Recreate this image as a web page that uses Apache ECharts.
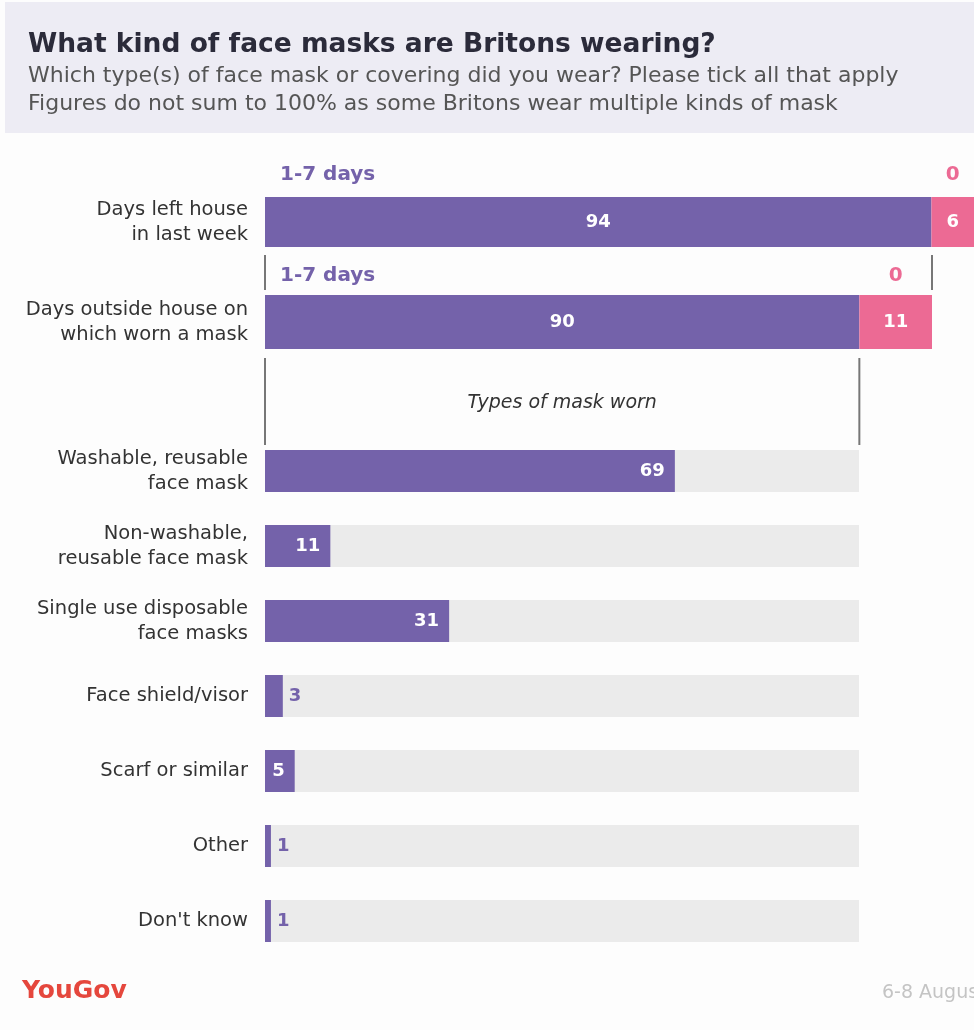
<!DOCTYPE html>
<html>
<head>
<meta charset="utf-8">
<script src="https://cdn.jsdelivr.net/npm/echarts@6/dist/echarts.min.js"></script>
<style>
html,body{margin:0;padding:0;background:#fdfdfd;}
#main{width:974px;height:1030px;}
</style>
</head>
<body>
<div id="main"></div>
<script>
// ---- data ----
const titleText = 'What kind of face masks are Britons wearing?';
const subtitleText = 'Which type(s) of face mask or covering did you wear? Please tick all that apply\nFigures do not sum to 100% as some Britons wear multiple kinds of mask';
const segmentHeaders = ['1-7 days', '0'];
const topCategory1 = ['Days left house\nin last week'];
const topCategory2 = ['Days outside house on\nwhich worn a mask'];
const daysLeft = [94, 6];      // 1-7 days, 0 days
const daysMasked = [90, 11];   // 1-7 days, 0 days
const maskTypes = ['Washable, reusable\nface mask', 'Non-washable,\nreusable face mask', 'Single use disposable\nface masks', 'Face shield/visor', 'Scarf or similar', 'Other', "Don't know"];
const maskValues = [69, 11, 31, 3, 5, 1, 1];
const bracketLabel = 'Types of mask worn';
const sourceText = '6-8 August 2020';

// ---- style ----
const purple = '#7462aa', pink = '#ec6a94', track = '#ebebeb';
const font = 'DejaVu Sans';
const chart = echarts.init(document.getElementById('main'));

const catAxis = (gi, data) => ({
  type: 'category', gridIndex: gi, data: data, inverse: true,
  axisLine: {show: false}, axisTick: {show: false},
  axisLabel: {margin: 17, fontSize: 19.5, lineHeight: 25, color: '#333', fontFamily: font, align: 'right'}
});
const valAxis = (gi, max) => ({type: 'value', gridIndex: gi, min: 0, max: max, show: false, splitLine: {show: false}});
const inLabel = {show: true, position: 'inside', color: '#fff', fontSize: 18, fontWeight: 'bold', fontFamily: font};

const option = {
  backgroundColor: '#fdfdfd',
  animation: false,
  title: [
    {text: titleText, left: 28, top: 32, padding: 0, textStyle: {fontSize: 26.5, fontWeight: 'bold', color: '#2b2b3a', fontFamily: font}},
    {text: subtitleText, left: 28, top: 62, padding: 0, textStyle: {fontSize: 22, fontWeight: 'normal', color: '#555', lineHeight: 28, fontFamily: font}},
    {text: 'YouGov', left: 22, top: 979, padding: 0, textStyle: {fontSize: 25, fontWeight: 'bold', color: '#e5473d', fontFamily: font}},
    {text: sourceText, left: 882, top: 984, padding: 0, textStyle: {fontSize: 19, fontWeight: 'normal', color: '#c4c4c4', fontFamily: font}}
  ],
  grid: [
    {left: 265, right: -1, top: 197, height: 50},
    {left: 265, right: 42, top: 295, height: 54},
    {left: 265, right: 115, top: 433.5, height: 525}
  ],
  xAxis: [valAxis(0, daysLeft[0] + daysLeft[1]), valAxis(1, daysMasked[0] + daysMasked[1]), valAxis(2, 100)],
  yAxis: [catAxis(0, topCategory1), catAxis(1, topCategory2), catAxis(2, maskTypes)],
  series: [
    {type: 'bar', xAxisIndex: 0, yAxisIndex: 0, stack: 'a', barWidth: '100%', data: [daysLeft[0]], itemStyle: {color: purple}, label: inLabel},
    {type: 'bar', xAxisIndex: 0, yAxisIndex: 0, stack: 'a', barWidth: '100%', data: [daysLeft[1]], itemStyle: {color: pink}, label: inLabel},
    {type: 'bar', xAxisIndex: 1, yAxisIndex: 1, stack: 'b', barWidth: '100%', data: [daysMasked[0]], itemStyle: {color: purple}, label: inLabel},
    {type: 'bar', xAxisIndex: 1, yAxisIndex: 1, stack: 'b', barWidth: '100%', data: [daysMasked[1]], itemStyle: {color: pink}, label: inLabel},
    {type: 'bar', xAxisIndex: 2, yAxisIndex: 2, barWidth: 42,
      showBackground: true, backgroundStyle: {color: track},
      itemStyle: {color: purple},
      data: maskValues.map(v => ({
        value: v,
        label: v >= 5
          ? {show: true, position: 'insideRight', distance: 10, color: '#fff', fontSize: 18, fontWeight: 'bold', fontFamily: font}
          : {show: true, position: 'right', distance: 6, color: purple, fontSize: 18, fontWeight: 'bold', fontFamily: font}
      }))
    }
  ]
};
chart.setOption(option);

// ---- annotations derived from the axes ----
const P = (g, v) => chart.convertToPixel({gridIndex: g}, [v, 0]);
const g = [];
g.push({type: 'rect', z: -10, shape: {x: 5, y: 2, width: 969, height: 131}, style: {fill: '#edecf4'}});
function headers(gi, vals, topY) {
  const x0 = P(gi, 0)[0], x1 = P(gi, vals[0])[0], x2 = P(gi, vals[0] + vals[1])[0];
  g.push({type: 'text', style: {text: segmentHeaders[0], x: x0 + 15, y: topY, fill: purple, font: 'bold 20px "' + font + '"', textVerticalAlign: 'middle'}});
  g.push({type: 'text', style: {text: segmentHeaders[1], x: (x1 + x2) / 2, y: topY, fill: pink, font: 'bold 20px "' + font + '"', textAlign: 'center', textVerticalAlign: 'middle'}});
}
headers(0, daysLeft, 175);
headers(1, daysMasked, 276);
const lineStyle = {stroke: '#777', lineWidth: 2};
const bx0 = P(1, 0)[0], bx1 = P(1, daysMasked[0] + daysMasked[1])[0], bx2 = P(1, daysMasked[0])[0];
g.push({type: 'line', shape: {x1: bx0, y1: 255, x2: bx0, y2: 290}, style: lineStyle});
g.push({type: 'line', shape: {x1: bx1, y1: 255, x2: bx1, y2: 290}, style: lineStyle});
g.push({type: 'line', shape: {x1: bx0, y1: 358, x2: bx0, y2: 445}, style: lineStyle});
g.push({type: 'line', shape: {x1: bx2, y1: 358, x2: bx2, y2: 445}, style: lineStyle});
g.push({type: 'text', style: {text: bracketLabel, x: (bx0 + bx2) / 2, y: 403, fill: '#333', font: 'italic 19px "' + font + '"', textAlign: 'center', textVerticalAlign: 'middle'}});
chart.setOption({graphic: g});
</script>
</body>
</html>
